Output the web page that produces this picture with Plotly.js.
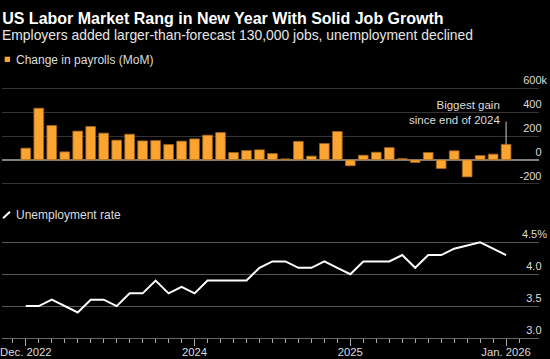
<!DOCTYPE html>
<html><head><meta charset="utf-8">
<script src="https://cdn.plot.ly/plotly-3.0.1.min.js"></script>
<style>html,body{margin:0;padding:0;background:#000;}#chart{width:550px;height:359px;}</style>
</head><body><div id="chart"></div>
<script>
const months = ['2022-12','2023-01','2023-02','2023-03','2023-04','2023-05','2023-06','2023-07','2023-08','2023-09','2023-10','2023-11','2023-12',
  '2024-01','2024-02','2024-03','2024-04','2024-05','2024-06','2024-07','2024-08','2024-09','2024-10','2024-11','2024-12',
  '2025-01','2025-02','2025-03','2025-04','2025-05','2025-06','2025-07','2025-08','2025-09','2025-10','2025-11','2025-12','2026-01'];
const payrolls = [98, 433, 288, 67, 241, 280, 224, 165, 215, 159, 162, 129, 157,
  176, 207, 229, 62, 78, 84, 53, 8, 155, 31, 137, 238,
  -50, 39, 64, 103, 11, -22, 62, -73, 76, -143, 36, 48, 130];
const unemployment = [3.5, 3.5, 3.6, 3.5, 3.4, 3.6, 3.6, 3.5, 3.7, 3.7, 3.9, 3.7, 3.8,
  3.7, 3.9, 3.9, 3.9, 3.9, 4.1, 4.2, 4.2, 4.1, 4.1, 4.2, 4.1,
  4.0, 4.2, 4.2, 4.2, 4.3, 4.1, 4.3, 4.3, 4.4, null, 4.5, 4.4, 4.3];
const xTickIdx = [0, 13, 25, 37];
const xTickText = ['Dec. 2022', '2024', '2025', 'Jan. 2026'];
const payTicks = [-200, 0, 200, 400, 600];
const payTickText = ['-200\u2002', '0\u2002', '200\u2002', '400\u2002', '600k'];
const rateTicks = [3.0, 3.5, 4.0, 4.5];
const rateTickText = ['3.0\u2002', '3.5\u2002', '4.0\u2002', '4.5%'];

const xIdx = months.map((m, i) => i);
const FONT = 'Liberation Sans, Arial, sans-serif';
const lastI = months.length - 1;
// pixel helpers for paper coordinates (plot area: x 2..539, y 0..338)
const py = p => (338 - p) / 338;
const px = p => (p - 2) / 537;

const traces = [
  {type: 'bar', x: xIdx, y: payrolls, xaxis: 'x', yaxis: 'y', name: 'Change in payrolls (MoM)',
   marker: {color: '#fba430', line: {color: '#9a6220', width: 0.8}}, showlegend: false, hoverinfo: 'skip'},
  {type: 'scatter', mode: 'lines', x: xIdx, y: unemployment, xaxis: 'x', yaxis: 'y2', name: 'Unemployment rate',
   connectgaps: true, line: {color: '#ffffff', width: 2}, showlegend: false, hoverinfo: 'skip'}
];

const layout = {
  width: 550, height: 359,
  paper_bgcolor: '#000', plot_bgcolor: '#000',
  margin: {l: 2, r: 11, t: 0, b: 21},
  bargap: 0.25,
  font: {family: FONT, color: '#dddddd', size: 11},
  title: {text: '<b>US Labor Market Rang in New Year With Solid Job Growth</b>',
    font: {family: FONT, size: 16, color: '#ffffff'},
    x: 0.004, xanchor: 'left', xref: 'container', y: 1 - 18/359, yanchor: 'middle', yref: 'container'},
  xaxis: {type: 'linear', range: [-1.834, 39.535], anchor: 'y2',
    tickmode: 'array', tickvals: xTickIdx, ticktext: xTickText,
    ticks: 'outside', ticklen: 7, tickcolor: '#aaaaaa', tickwidth: 1, ticklabelstandoff: -4,
    ticklabeloverflow: 'allow',
    showgrid: false, zeroline: false, showline: true, linecolor: '#666666', linewidth: 1,
    tickfont: {size: 11.3, color: '#dddddd'},
    minor: {tickmode: 'linear', tick0: 0, dtick: 1, ticks: 'outside', ticklen: 4, tickcolor: '#aaaaaa', showgrid: false}},
  yaxis: {domain: [py(200), py(72)], range: [-336.7, 600 + (88.3 - 72) / 0.11925], side: 'right', anchor: 'x',
    tickmode: 'array', tickvals: payTicks, ticktext: payTickText,
    ticklabelposition: 'inside top', ticklabelstandoff: -11, ticks: '', showgrid: true, gridcolor: '#333333', gridwidth: 1,
    zeroline: true, zerolinecolor: '#808080', zerolinewidth: 1.5,
    tickfont: {size: 11, color: '#dddddd'}},
  yaxis2: {domain: [0, py(225)], range: [3.0, 4.5 + (242.3 - 225) / 63.8], side: 'right', anchor: 'x',
    tickmode: 'array', tickvals: rateTicks, ticktext: rateTickText,
    ticklabelposition: 'inside top', ticklabelstandoff: -11, ticks: '', showgrid: true, gridcolor: '#555555', gridwidth: 1,
    zeroline: false, tickfont: {size: 11, color: '#dddddd'}},
  annotations: [
    {xref: 'paper', yref: 'paper', x: 0, y: py(35), xanchor: 'left', yanchor: 'middle', xshift: -2, showarrow: false,
     text: 'Employers added larger-than-forecast 130,000 jobs, unemployment declined',
     font: {family: FONT, size: 13.9, color: '#e6e6e6'}},
    {xref: 'paper', yref: 'paper', x: px(13.5), y: py(60), xanchor: 'left', yanchor: 'middle', showarrow: false,
     text: 'Change in payrolls (MoM)', font: {family: FONT, size: 12, color: '#dddddd'}},
    {xref: 'paper', yref: 'paper', x: px(14), y: py(215), xanchor: 'left', yanchor: 'middle', showarrow: false,
     text: 'Unemployment rate', font: {family: FONT, size: 12, color: '#dddddd'}},
    {xref: 'x', yref: 'y', x: xIdx[lastI], y: 400, xanchor: 'right', yanchor: 'middle', xshift: -4, showarrow: false,
     align: 'right', text: 'Biggest gain<br>since end of 2024', font: {family: FONT, size: 11.5, color: '#dddddd'}}
  ],
  shapes: [
    {type: 'rect', xref: 'paper', yref: 'paper', x0: px(4.7), x1: px(10), y0: py(62), y1: py(56.7),
     fillcolor: '#fba430', line: {width: 0}},
    {type: 'line', xref: 'paper', yref: 'paper', x0: px(3), x1: px(10), y0: py(218.3), y1: py(211.7),
     line: {color: '#ffffff', width: 2}},
    {type: 'line', xref: 'x', yref: 'y', x0: xIdx[lastI], x1: xIdx[lastI], y0: payrolls[lastI], y1: 320,
     line: {color: '#cccccc', width: 1}}
  ]
};

Plotly.newPlot('chart', traces, layout, {displayModeBar: false, staticPlot: true});
</script></body></html>
